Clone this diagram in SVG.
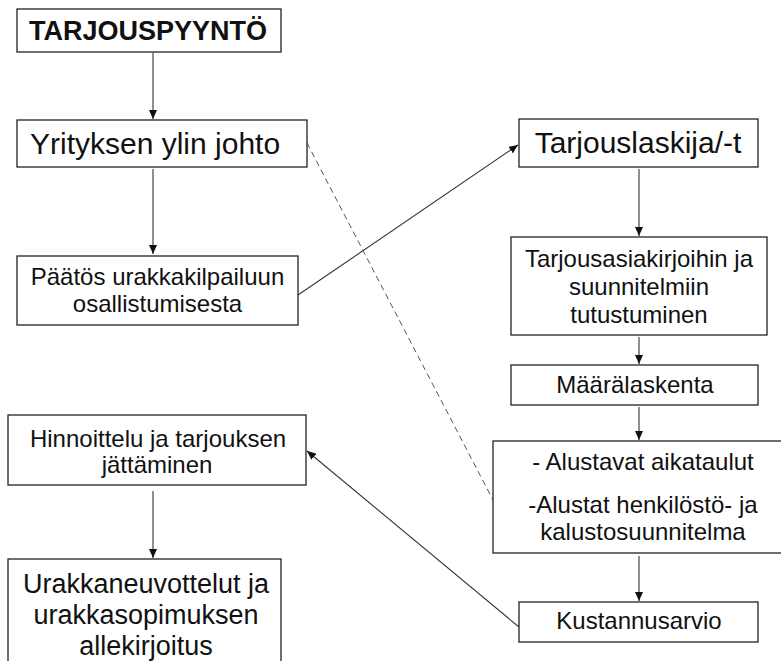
<svg xmlns="http://www.w3.org/2000/svg" width="781" height="661" viewBox="0 0 781 661">
  <defs>
    <style>
      .box { fill: #ffffff; stroke: #222222; stroke-width: 1.3; }
      .t { font-family: "Liberation Sans", Arial, sans-serif; fill: #111111; text-anchor: middle; }
      .t24 { font-size: 24px; }
      .t30 { font-size: 30px; }
      .t27 { font-size: 27px; }
      .bold { font-weight: bold; font-size: 27px; }
      .conn { stroke: #333333; stroke-width: 1.1; fill: none; marker-end: url(#arr); }
      .dash { stroke: #555555; stroke-width: 1; fill: none; stroke-dasharray: 6 4; }
    </style>
    <marker id="arr" markerUnits="userSpaceOnUse" markerWidth="10" markerHeight="8" refX="9" refY="4" orient="auto">
      <path d="M0,0 L9,4 L0,8 Z" fill="#111111"/>
    </marker>
  </defs>
  <rect x="0" y="0" width="781" height="661" fill="#ffffff"/>

  <g id="connectors">
    <line class="conn" x1="153" y1="53" x2="153" y2="119"/>
    <line class="conn" x1="153" y1="169" x2="153" y2="254"/>
    <line class="conn" x1="298" y1="295" x2="518" y2="145"/>
    <line class="dash" x1="307" y1="143" x2="493" y2="500"/>
    <line class="conn" x1="639" y1="169" x2="639" y2="236"/>
    <line class="conn" x1="639" y1="337" x2="639" y2="364"/>
    <line class="conn" x1="639" y1="407" x2="639" y2="440"/>
    <line class="conn" x1="639" y1="556" x2="639" y2="601"/>
    <line class="conn" x1="519" y1="627" x2="307" y2="451"/>
    <line class="conn" x1="153" y1="491" x2="153" y2="558"/>
  </g>

  <g id="tarjouspyynto">
    <rect class="box" x="17" y="9" width="264" height="43"/>
    <text class="t bold" x="148" y="39.5">TARJOUSPYYNTÖ</text>
  </g>

  <g id="ylin-johto">
    <rect class="box" x="17" y="120" width="290" height="47"/>
    <text class="t t30" x="30" y="154" style="text-anchor:start">Yrityksen ylin johto</text>
  </g>

  <g id="paatos">
    <rect class="box" x="17" y="256" width="281" height="69"/>
    <text class="t t24" x="157.5" y="285">Päätös urakkakilpailuun</text>
    <text class="t t24" x="157.5" y="312">osallistumisesta</text>
  </g>

  <g id="tarjouslaskija">
    <rect class="box" x="519" y="119" width="239" height="48"/>
    <text class="t t30" x="638" y="153">Tarjouslaskija/-t</text>
  </g>

  <g id="tutustuminen">
    <rect class="box" x="511" y="237" width="256" height="98"/>
    <text class="t t24" x="639" y="267">Tarjousasiakirjoihin ja</text>
    <text class="t t24" x="639" y="295">suunnitelmiin</text>
    <text class="t t24" x="639" y="323">tutustuminen</text>
  </g>

  <g id="maaralaskenta">
    <rect class="box" x="511" y="365" width="247" height="40"/>
    <text class="t t24" x="635" y="393">Määrälaskenta</text>
  </g>

  <g id="alustavat">
    <rect class="box" x="493" y="441" width="300" height="112"/>
    <text class="t t24" x="643" y="470">- Alustavat aikataulut</text>
    <text class="t t24" x="643" y="513">-Alustat henkilöstö- ja</text>
    <text class="t t24" x="643" y="540">kalustosuunnitelma</text>
  </g>

  <g id="kustannusarvio">
    <rect class="box" x="519" y="602" width="239" height="40"/>
    <text class="t t24" x="639" y="629">Kustannusarvio</text>
  </g>

  <g id="hinnoittelu">
    <rect class="box" x="8" y="415" width="298" height="70"/>
    <text class="t t24" x="158" y="447">Hinnoittelu ja tarjouksen</text>
    <text class="t t24" x="157" y="473">jättäminen</text>
  </g>

  <g id="urakkaneuvottelut">
    <rect class="box" x="8" y="559" width="273" height="115"/>
    <text class="t t27" x="146" y="593">Urakkaneuvottelut ja</text>
    <text class="t t27" x="146" y="624">urakkasopimuksen</text>
    <text class="t t27" x="146" y="655">allekirjoitus</text>
  </g>
</svg>
